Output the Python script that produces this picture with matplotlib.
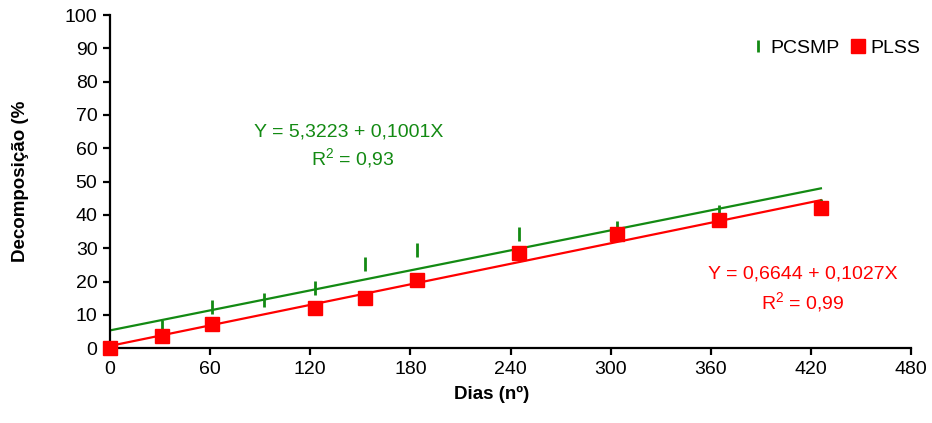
import numpy as np
import matplotlib.pyplot as plt
import matplotlib.ticker as ticker

plt.rcParams['font.family'] = ['Liberation Sans', 'DejaVu Sans']
plt.rcParams['mathtext.fontset'] = 'custom'
plt.rcParams['mathtext.rm'] = 'Liberation Sans'
plt.rcParams['mathtext.default'] = 'regular'

# data
dias_pcsmp = [31, 61, 92, 123, 153, 184, 245, 304, 365, 426]
dec_pcsmp = [6.2, 12.2, 14.4, 18.1, 25.2, 29.4, 34.2, 36.0, 41.0, 42.6]
dias_plss = [0, 31, 61, 123, 153, 184, 245, 304, 365, 426]
dec_plss = [0.0, 3.7, 7.2, 12.1, 15.1, 20.4, 28.7, 34.2, 38.4, 42.2]

# regression coefficients (a + bX)
coef_pcsmp = (5.3223, 0.1001)
coef_plss = (0.6644, 0.1027)
x_fit = np.array([0, 426])

fig = plt.figure(figsize=(9.32, 4.23), dpi=100)
ax = fig.add_axes([0.118, 0.177, 0.8595, 0.7875])

green = '#138a13'
red = '#ff0000'

ax.plot(x_fit, coef_pcsmp[0] + coef_pcsmp[1] * x_fit, color=green, lw=1.6)
ax.plot(x_fit, coef_plss[0] + coef_plss[1] * x_fit, color=red, lw=1.6)

ax.plot(dias_pcsmp, dec_pcsmp, linestyle='none', marker='|', color=green,
        markersize=10, mew=2, label='PCSMP', clip_on=False)
ax.plot(dias_plss, dec_plss, linestyle='none', marker='s', color=red,
        markersize=10.5, label='PLSS', clip_on=False, zorder=5)

ax.set_xlim(0, 480)
ax.set_ylim(0, 100)
ax.xaxis.set_major_locator(ticker.MultipleLocator(60))
ax.yaxis.set_major_locator(ticker.MultipleLocator(10))

for s in ['top', 'right']:
    ax.spines[s].set_visible(False)
for s in ['left', 'bottom']:
    ax.spines[s].set_linewidth(1.6)
ax.tick_params(direction='out', length=5, width=1.6, labelsize=14, pad=4)

ax.set_xlabel('Dias (nº)', fontsize=13.5, fontweight='bold', labelpad=6)
ax.xaxis.label.set_x(0.477)
ax.set_ylabel('Decomposição (%', fontsize=13.5, fontweight='bold', labelpad=26)

fs = 14
ax.text(143, 63.4, 'Y = 5,3223 + 0,1001X', color=green, fontsize=fs, ha='center', va='baseline')
ax.text(145.5, 55.2, r'R$^2$ = 0,93', color=green, fontsize=fs, ha='center', va='baseline')
ax.text(415, 20.9, 'Y = 0,6644 + 0,1027X', color=red, fontsize=fs, ha='center', va='baseline')
ax.text(415, 11.9, r'R$^2$ = 0,99', color=red, fontsize=fs, ha='center', va='baseline')

ax.legend(loc='center right', bbox_to_anchor=(1.012, 0.90), ncol=2, frameon=False,
          fontsize=fs, handlelength=0.7, handletextpad=0.3, columnspacing=0.6,
          borderaxespad=0, borderpad=0, markerscale=0.9)

fig.savefig('out.png', dpi=100)
